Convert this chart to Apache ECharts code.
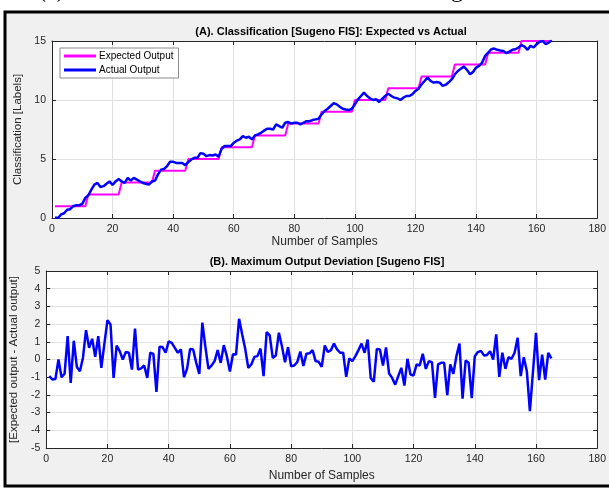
<!DOCTYPE html>
<html>
<head>
<meta charset="utf-8">
<script src="https://cdn.jsdelivr.net/npm/echarts@6/dist/echarts.min.js"></script>
<style>
html,body{margin:0;padding:0;background:#fff;}
#c{width:609px;height:489px;}
</style>
</head>
<body>
<div id="c"></div>
<script>
// ---- data ----
const samplesPerClass = 11;
const classLabels = [1,2,3,4,5,6,7,8,9,10,11,12,13,14,15];
const actualOutput = [
 0.05,0,0.3,0.4,0.7,0.75,1.0,1.08,1.08,1.2,
 1.7,1.93,2.4,2.83,2.97,2.63,2.7,2.9,3.1,2.8,
 3.1,3.3,3.1,2.97,3.4,3.17,3.4,3.26,3.1,2.97,
 2.9,2.83,3.1,3.17,3.7,4.1,4.16,4.4,4.76,4.76,
 4.67,4.67,4.67,4.48,4.73,4.96,5.1,5.1,5.5,5.44,
 5.24,5.33,5.3,5.38,5.2,5.86,6.1,6.1,6.1,6.37,
 6.55,6.66,6.94,6.8,6.88,6.66,7.0,7.08,7.22,7.4,
 7.56,7.56,7.5,7.93,7.79,7.65,8.07,8.13,8.0,8.07,
 8.07,7.93,8.07,8.2,8.2,8.3,8.36,8.41,8.78,9.07,
 9.26,9.49,9.72,9.63,9.43,9.26,9.2,9.15,9.26,9.63,
 10.06,10.34,10.62,10.34,10.14,10.0,10.06,9.83,10.1,10.34,
 10.54,10.34,10.2,10.15,10.0,10.2,10.34,10.34,10.5,10.77,
 10.96,11.33,11.61,11.9,11.61,11.47,11.53,11.47,11.19,11.3,
 11.5,11.76,12.18,12.46,12.66,12.83,12.55,12.18,12.38,12.75,
 12.89,13.17,13.74,14.02,14.3,14.36,14.25,14.2,14.16,13.97,
 14.1,14.25,14.3,14.45,14.65,14.53,14.25,14.59,14.45,14.73,
 14.93,15.0,14.73,14.87,15.07
];
const deviation = [
 -0.94,-1.13,-1.1,0.0,-1.0,-0.8,1.32,-1.32,1.06,-0.42,
 -0.66,0.1,1.66,0.66,1.17,0.15,1.32,-0.47,0.9,2.22,
 1.98,-1.04,0.79,0.47,0.0,0.42,0.38,-0.57,1.75,-0.57,
 -0.5,-0.34,-1.04,0.38,0.32,-1.83,0.72,0.7,0.38,1.02,
 0.94,0.66,0.38,0.57,-1.0,-0.53,0.6,0.57,-0.19,-0.81,
 2.08,0.7,-0.53,-0.34,-0.09,0.53,-0.19,0.81,0.19,-0.68,
 0.3,0.28,2.3,1.42,0.6,-0.47,-0.28,0.15,0.19,0.62,
 -0.94,1.55,1.36,0.09,0.23,1.51,0.75,-0.15,0.7,-0.38,
 -0.34,-0.15,0.45,-0.36,0.33,0.35,0.53,-0.09,-0.13,-0.42,
 0.79,0.42,0.53,0.9,0.57,0.38,0.38,-0.98,0.06,-0.09,
 0.19,0.53,0.9,0.38,1.13,-1.04,-1.26,0.6,0.57,-0.34,
 0.68,-0.79,-1.04,-1.42,-0.94,-0.47,-1.47,0.04,-0.85,-0.9,
 -0.28,-0.34,0.32,-0.53,-0.09,-0.15,-2.17,-0.28,-0.19,-0.19,
 -2.02,-0.28,-0.81,0.19,0.9,-2.21,-0.06,-0.19,-2.19,0.19,
 0.42,0.49,0.23,0.26,0.47,0.0,1.42,-0.98,0.38,-0.53,
 0.13,0.04,0.38,1.23,-0.94,0.13,-0.66,-2.92,-0.7,1.51,
 -1.17,0.28,-1.13,0.38,0.06
];
const xTicks = [0,20,40,60,80,100,120,140,160,180];
const yTicksTop = [0,5,10,15];
const yTicksBottom = [-5,-4,-3,-2,-1,0,1,2,3,4,5];

// ---- build series data ----
const expectedData = [];
classLabels.forEach(function(c, ci){
  for (let k = 0; k < samplesPerClass; k++) {
    const i = ci * samplesPerClass + k + 1;
    expectedData.push([i, c]);
  }
});
const actualData = actualOutput.map(function(v, i){ return [i + 1, v]; });
const devData = deviation.map(function(v, i){ return [i + 1, v]; });

const axisCol = '#262626';
const gridCol = '#e0e0e0';
const font = 'Liberation Sans, Arial, sans-serif';

function xAx(gi, show, name, gap) {
  return {
    type: 'value', gridIndex: gi, min: xTicks[0], max: xTicks[xTicks.length-1], interval: 20,
    position: show ? 'bottom' : 'top',
    name: show ? name : '', nameLocation: 'middle', nameGap: gap,
    nameTextStyle: {color: axisCol, fontSize: 12, fontFamily: font},
    axisLine: {show: true, onZero: false, lineStyle: {color: axisCol, width: 1}},
    axisTick: {show: true, inside: true, length: 4, lineStyle: {color: axisCol}},
    axisLabel: {show: show, color: axisCol, fontSize: 10.5, fontFamily: font, margin: 6},
    splitLine: {show: show, lineStyle: {color: gridCol, width: 1}}
  };
}
function yAx(gi, show, min, max, interval, name, gap) {
  return {
    type: 'value', gridIndex: gi, min: min, max: max, interval: interval,
    position: show ? 'left' : 'right',
    name: show ? name : '', nameLocation: 'middle', nameGap: gap, nameRotate: 90,
    nameTextStyle: {color: axisCol, fontSize: 11.5, fontFamily: font},
    axisLine: {show: true, onZero: false, lineStyle: {color: axisCol, width: 1}},
    axisTick: {show: true, inside: true, length: 4, lineStyle: {color: axisCol}},
    axisLabel: {show: show, color: axisCol, fontSize: 10.5, fontFamily: font, margin: 6},
    splitLine: {show: show, lineStyle: {color: gridCol, width: 1}}
  };
}

const chart = echarts.init(document.getElementById('c'), null, {renderer: 'canvas'});
chart.setOption({
  animation: false,
  backgroundColor: '#ffffff',
  graphic: [
    {type: 'text', z: -20, left: 38, top: -21,
     style: {text: '(c)', font: '24px "Liberation Serif", serif', fill: '#000'}},
    {type: 'text', z: -20, left: 451, top: -21,
     style: {text: 'g', font: '24px "Liberation Serif", serif', fill: '#000'}},
    {type: 'rect', z: -10, shape: {x: 5, y: 12, width: 612, height: 474},
     style: {fill: '#f0f0f0', stroke: '#000', lineWidth: 3}}
  ],
  title: [
    {text: '(A). Classification [Sugeno FIS]: Expected vs Actual', left: 326, top: 21, textAlign: 'center',
     textStyle: {fontSize: 11, fontWeight: 'bold', color: '#000', fontFamily: font}},
    {text: '(B). Maximum Output Deviation [Sugeno FIS]', left: 322, top: 251, textAlign: 'center',
     textStyle: {fontSize: 11, fontWeight: 'bold', color: '#000', fontFamily: font}}
  ],
  legend: {
    data: ['Expected Output', 'Actual Output'],
    orient: 'vertical', left: 60, top: 48,
    backgroundColor: '#fff', borderColor: '#8c8c8c', borderWidth: 1,
    padding: [3, 5, 3, 4], itemGap: 4, itemWidth: 32, itemHeight: 3,
    icon: 'rect',
    textStyle: {fontSize: 10, color: '#000', fontFamily: font, padding: [0,0,0,-2]}
  },
  grid: [
    {left: 52, right: 8, top: 41, height: 177, show: true, backgroundColor: '#fff', borderWidth: 0},
    {left: 44, right: 8, top: 271, height: 177, show: true, backgroundColor: '#fff', borderWidth: 0}
  ],
  xAxis: [
    xAx(0, true, 'Number of Samples', 17),
    xAx(0, false, '', 0),
    xAx(1, true, 'Number of Samples', 22),
    xAx(1, false, '', 0)
  ],
  yAxis: [
    yAx(0, true, 0, 15, 5, 'Classification [Labels]', 19),
    yAx(0, false, 0, 15, 5, '', 0),
    yAx(1, true, -5, 5, 1, '[Expected output - Actual output]', 21),
    yAx(1, false, -5, 5, 1, '', 0)
  ],
  series: [
    {name: 'Expected Output', type: 'line', xAxisIndex: 0, yAxisIndex: 0, data: expectedData,
     showSymbol: false, lineStyle: {color: '#ff00ff', width: 2}, itemStyle: {color: '#ff00ff'}},
    {name: 'Actual Output', type: 'line', xAxisIndex: 0, yAxisIndex: 0, data: actualData,
     showSymbol: false, lineStyle: {color: '#0000ff', width: 2.5}, itemStyle: {color: '#0000ff'}},
    {name: 'Deviation', type: 'line', xAxisIndex: 2, yAxisIndex: 2, data: devData,
     showSymbol: false, lineStyle: {color: '#0000ff', width: 2.5}, itemStyle: {color: '#0000ff'}}
  ]
});
</script>
</body>
</html>
